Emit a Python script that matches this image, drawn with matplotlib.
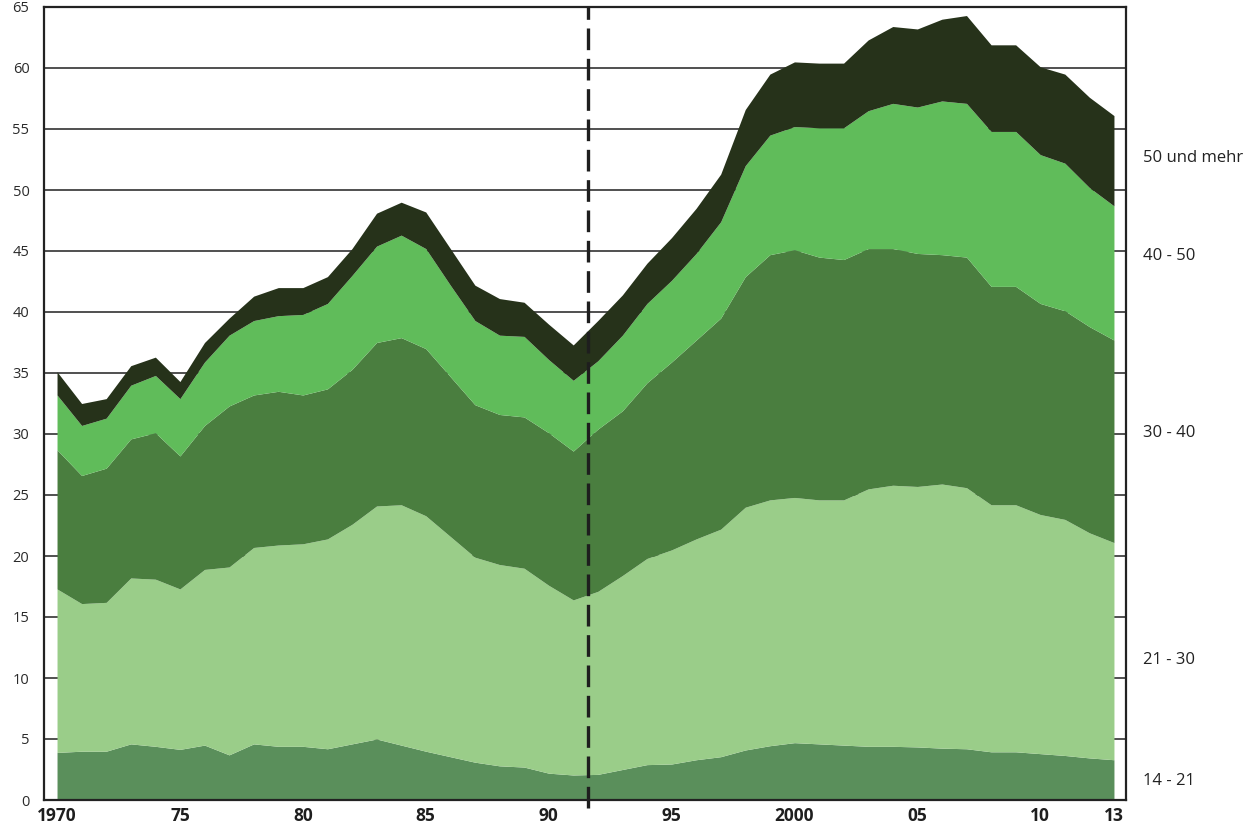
import matplotlib
matplotlib.use("Agg")
import matplotlib.pyplot as plt
import matplotlib.transforms as mtransforms
import numpy as np

plt.rcParams['font.family'] = ['Open Sans', 'DejaVu Sans']

years = list(range(1970, 2014))

# cumulative upper boundaries of each age band
top_14_21 = [3.9, 4.0, 4.0, 4.6, 4.4, 4.15, 4.5, 3.7, 4.6, 4.4, 4.4, 4.2, 4.6, 5.0, 4.5,
             4.0, 3.55, 3.1, 2.8, 2.7, 2.2, 2.05, 2.1, 2.5, 2.9, 2.95, 3.3, 3.55, 4.1, 4.45,
             4.7, 4.6, 4.5, 4.4, 4.4, 4.35, 4.25, 4.2, 3.95, 3.95, 3.8, 3.65, 3.45, 3.3]
top_21_30 = [17.3, 16.1, 16.2, 18.2, 18.1, 17.3, 18.9, 19.1, 20.7, 20.9, 21.0, 21.4, 22.6, 24.1, 24.2,
             23.3, 21.6, 19.9, 19.3, 19.0, 17.6, 16.4, 17.1, 18.4, 19.8, 20.5, 21.4, 22.2, 24.0, 24.6,
             24.8, 24.6, 24.6, 25.5, 25.8, 25.7, 25.9, 25.6, 24.2, 24.2, 23.4, 23.0, 21.9, 21.1]
top_30_40 = [28.7, 26.6, 27.2, 29.6, 30.1, 28.2, 30.7, 32.3, 33.2, 33.5, 33.2, 33.7, 35.3, 37.5, 37.9,
             37.0, 34.7, 32.4, 31.6, 31.4, 30.1, 28.6, 30.4, 31.9, 34.2, 35.9, 37.7, 39.5, 42.9, 44.7,
             45.1, 44.5, 44.3, 45.2, 45.2, 44.8, 44.7, 44.5, 42.1, 42.1, 40.7, 40.1, 38.8, 37.7]
top_40_50 = [33.2, 30.7, 31.3, 34.0, 34.8, 32.9, 35.9, 38.1, 39.3, 39.7, 39.8, 40.7, 43.0, 45.4, 46.3,
             45.2, 42.2, 39.3, 38.1, 38.0, 36.1, 34.4, 36.0, 38.1, 40.7, 42.6, 44.8, 47.4, 52.0, 54.5,
             55.2, 55.1, 55.1, 56.5, 57.1, 56.8, 57.3, 57.1, 54.8, 54.8, 52.9, 52.2, 50.2, 48.7]
top_50_plus = [35.1, 32.5, 32.9, 35.6, 36.3, 34.3, 37.5, 39.5, 41.3, 42.0, 42.0, 42.9, 45.2, 48.1, 49.0,
               48.2, 45.2, 42.2, 41.1, 40.8, 39.0, 37.3, 39.3, 41.4, 44.0, 46.1, 48.5, 51.3, 56.6, 59.5,
               60.5, 60.4, 60.4, 62.3, 63.4, 63.2, 64.0, 64.3, 61.9, 61.9, 60.1, 59.5, 57.6, 56.1]

groups = ["14 - 21", "21 - 30", "30 - 40", "40 - 50", "50 und mehr"]
label_y = [1.55, 11.5, 30.1, 44.6, 52.6]
colors = ["#5a8f5b", "#9acd89", "#4a7e3f", "#60bc5a", "#26321a"]

y_ticks = list(range(0, 66, 5))
x_ticks = [1970, 1975, 1980, 1985, 1990, 1995, 2000, 2005, 2010, 2013]
x_tick_labels = ["1970", "75", "80", "85", "90", "95", "2000", "05", "10", "13"]
break_year = 1991.6

fig = plt.figure(figsize=(12.45, 8.23), dpi=100)
ax = fig.add_axes([44 / 1245, 1 - 800 / 823, (1126 - 44) / 1245, (800 - 7) / 823])

for yv in y_ticks[1:]:
    ax.axhline(yv, color="#3a3a3a", lw=1.25, zorder=0)

bounds = [[0.0] * len(years), top_14_21, top_21_30, top_30_40, top_40_50, top_50_plus]
for i in range(5):
    ax.fill_between(years, bounds[i], bounds[i + 1], color=colors[i], lw=0, zorder=2)

ax.plot([break_year, break_year], [-0.65, 65], color="#1e1e1e", lw=2.4,
        dashes=(6.5, 2.6), clip_on=False, zorder=5)

ax.set_xlim(1969.47, 2013.49)
ax.set_ylim(0, 65)
ax.set_yticks(y_ticks)
ax.set_yticklabels([str(v) for v in y_ticks], fontsize=10.5, color="#2a2a2a")
ax.set_xticks(x_ticks)
ax.set_xticklabels(x_tick_labels, fontsize=12.5, fontweight="bold", color="#1e1e1e")
ax.tick_params(axis="y", length=0, pad=10.5)
ax.tick_params(axis="x", length=0, pad=5)

for s in ["left", "right", "top", "bottom"]:
    ax.spines[s].set_linewidth(1.6)
    ax.spines[s].set_color("#222222")
ax.spines["bottom"].set_zorder(6)

trans = mtransforms.blended_transform_factory(ax.transAxes, ax.transData)
for g, yv in zip(groups, label_y):
    ax.text(1.0157, yv, g, transform=trans, ha="left", va="center",
            fontsize=12, color="#222222")

fig.savefig("out.png", dpi=100)
